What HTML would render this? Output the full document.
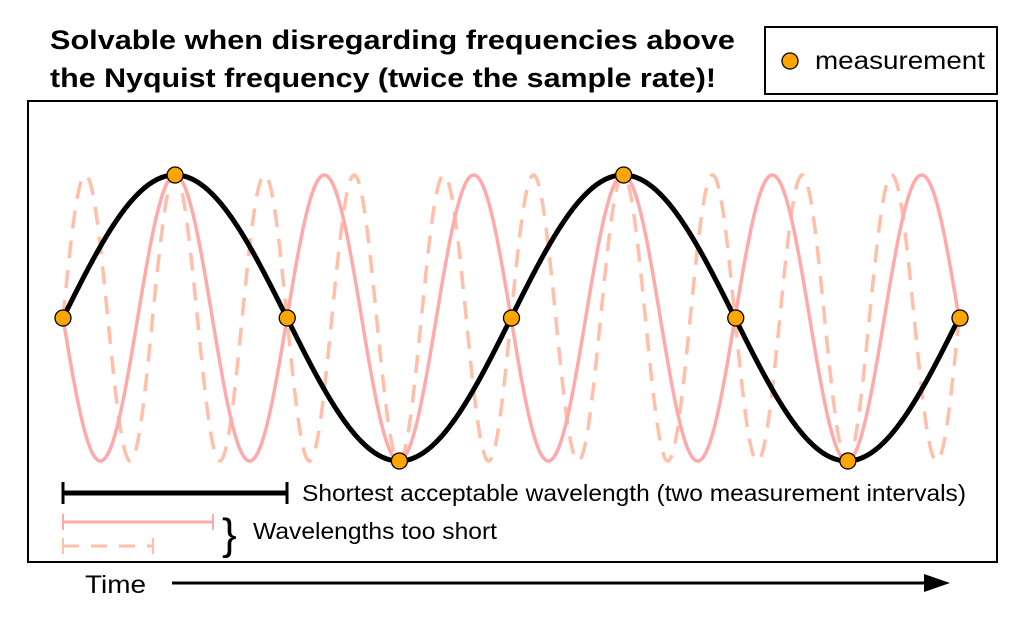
<!DOCTYPE html>
<html><head><meta charset="utf-8"><style>
html,body{margin:0;padding:0;background:#fff;}
svg{display:block;font-family:"Liberation Sans",sans-serif;}
</style></head><body>
<svg id="s" width="1024" height="621" viewBox="0 0 1024 621" xmlns="http://www.w3.org/2000/svg">
<text x="50" y="49" font-size="27" font-weight="bold" textLength="685" lengthAdjust="spacingAndGlyphs">Solvable when disregarding frequencies above</text>
<text x="50" y="87" font-size="27" font-weight="bold" textLength="666" lengthAdjust="spacingAndGlyphs">the Nyquist frequency (twice the sample rate)!</text>
<rect x="765" y="27" width="232" height="67" fill="#fff" stroke="#000" stroke-width="2"/>
<circle cx="790" cy="61" r="8" fill="#ffa500" stroke="#000" stroke-width="1.3"/>
<text x="815" y="69" font-size="25" textLength="170" lengthAdjust="spacingAndGlyphs">measurement</text>
<rect x="28" y="101" width="969" height="461" fill="#fff" stroke="#000" stroke-width="2"/>
<g id="curves"></g>
<g stroke="#000" stroke-width="5"><line x1="63" y1="493" x2="287" y2="493"/><line x1="63" y1="482" x2="63" y2="504" stroke-width="3"/><line x1="287" y1="482" x2="287" y2="504" stroke-width="3"/></g>
<g stroke="#ffaaaa" stroke-width="3"><line x1="63" y1="522" x2="213" y2="522"/><line x1="63" y1="514" x2="63" y2="530" stroke-width="2"/><line x1="213" y1="514" x2="213" y2="530" stroke-width="2"/></g>
<g stroke="#ffbfa8" stroke-width="3"><line x1="63" y1="546" x2="153" y2="546" stroke-dasharray="16,12"/><line x1="63" y1="538" x2="63" y2="554" stroke-width="2"/><line x1="153" y1="538" x2="153" y2="554" stroke-width="2"/></g>
<text x="222" y="549" font-size="44">}</text>
<text x="302" y="501" font-size="23" textLength="664" lengthAdjust="spacingAndGlyphs">Shortest acceptable wavelength (two measurement intervals)</text>
<text x="253" y="539" font-size="23" textLength="244" lengthAdjust="spacingAndGlyphs">Wavelengths too short</text>
<text x="85" y="593" font-size="25" textLength="61" lengthAdjust="spacingAndGlyphs">Time</text>
<line x1="172" y1="583" x2="930" y2="583" stroke="#000" stroke-width="3"/>
<polygon points="950,583 924,574 924,592" fill="#000"/>
</svg>
<script>
var g=document.getElementById('curves'),ns='http://www.w3.org/2000/svg';
function path(f,st){var d='';for(var x=63;x<=960.01;x+=1){d+=(x==63?'M':'L')+x.toFixed(1)+','+(318-143*f(x)).toFixed(2);}
var p=document.createElementNS(ns,'path');p.setAttribute('d',d);p.setAttribute('fill','none');for(var k in st)p.setAttribute(k,st[k]);g.appendChild(p);}
var T=2*Math.PI;
path(function(x){return Math.sin(T*(x-63)/89.6)},{stroke:'#ffbfa8','stroke-width':3.5,'stroke-dasharray':'18,12'});
path(function(x){return -Math.sin(T*(x-63)/149.333)},{stroke:'#ffaaaa','stroke-width':3.5});
path(function(x){return Math.sin(T*(x-63)/448)},{stroke:'#000','stroke-width':5});
for(var i=0;i<9;i++){var x=63+112.125*i,y=318-143*Math.sin(Math.PI/2*i);var c=document.createElementNS(ns,'circle');c.setAttribute('cx',x);c.setAttribute('cy',y);c.setAttribute('r',8);c.setAttribute('fill','#ffa500');c.setAttribute('stroke','#000');c.setAttribute('stroke-width',1.3);g.appendChild(c);}
</script>
</body></html>
